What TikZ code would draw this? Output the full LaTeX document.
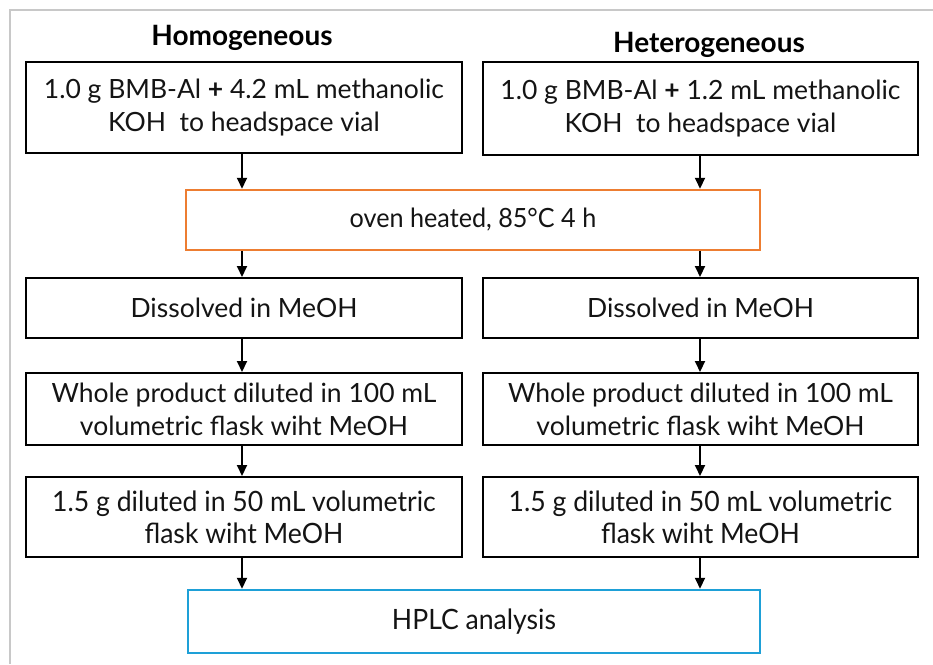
\documentclass[tikz,border=0pt]{standalone}
\usepackage{fontspec}
\setmainfont{Lato}
\newfontfamily\narrowfont[FakeStretch=0.95]{Lato}
\usetikzlibrary{arrows.meta}
\definecolor{frameg}{RGB}{200,200,200}
\definecolor{ovenorange}{RGB}{237,125,49}
\definecolor{hplcblue}{RGB}{30,160,215}
\definecolor{txt}{RGB}{20,20,20}
\begin{document}
\begin{tikzpicture}[x=1pt,y=-1pt,
  box/.style={draw=black, line width=2pt, minimum width=436pt, inner sep=0pt,
    align=center, text=txt, font=\fontsize{26.5}{33}\selectfont},
  nbox/.style={box, font=\narrowfont\fontsize{28}{32}\selectfont},
  titletext/.style={font=\bfseries\fontsize{28}{32}\selectfont, text=black},
  arr/.style={draw=black, line width=2pt, -{Triangle[length=11pt,width=10pt]}}]
\useasboundingbox (0,0) rectangle (933,664);
\draw[frameg, line width=2pt] (10,664) -- (10,10) -- (933,10);

\node[titletext] (tl) at (242,38) {Homogeneous};
\node[titletext] (tr) at (709,45) {Heterogeneous};

\node[box, minimum height=91pt] (l1) at (244,107.5) {1.0 g BMB-Al {\bfseries +} 4.2 mL methanolic\\KOH\ \ to headspace vial};
\node[box, minimum height=93pt, minimum width=435pt] (r1) at (700.5,108.5) {1.0 g BMB-Al {\bfseries +} 1.2 mL methanolic\\KOH\ \ to headspace vial};

\node[nbox, draw=ovenorange, line width=2.5pt, minimum width=574pt, minimum height=60pt,
  font=\narrowfont\fontsize{26.5}{32}\selectfont] (oven) at (473,220) {oven heated, 85°C 4 h};

\node[box, minimum height=60pt] (l2) at (244,308) {Dissolved in MeOH};
\node[box, minimum height=60pt, minimum width=435pt] (r2) at (700.5,308) {Dissolved in MeOH};

\node[box, minimum height=72pt] (l3) at (244,409) {Whole product diluted in 100 mL\\volumetric flask wiht MeOH};
\node[box, minimum height=72pt, minimum width=435pt] (r3) at (700.5,409) {Whole product diluted in 100 mL\\volumetric flask wiht MeOH};

\node[nbox, minimum height=80pt] (l4) at (244,517) {1.5 g diluted in 50 mL volumetric\\flask wiht MeOH};
\node[nbox, minimum height=80pt, minimum width=435pt] (r4) at (700.5,517) {1.5 g diluted in 50 mL volumetric\\flask wiht MeOH};

\node[nbox, draw=hplcblue, line width=2.5pt, minimum width=572pt, minimum height=63pt] (hplc) at (474,621.5) {HPLC analysis};

\coordinate (la) at (242,0);
\coordinate (ra) at (700,0);
\draw[arr] (la |- l1.south) -- (la |- oven.north);
\draw[arr] (ra |- r1.south) -- (ra |- oven.north);
\draw[arr] (la |- oven.south) -- (la |- l2.north);
\draw[arr] (ra |- oven.south) -- (ra |- r2.north);
\draw[arr] (la |- l2.south) -- (la |- l3.north);
\draw[arr] (ra |- r2.south) -- (ra |- r3.north);
\draw[arr] (la |- l3.south) -- (la |- l4.north);
\draw[arr] (ra |- r3.south) -- (ra |- r4.north);
\draw[arr] (la |- l4.south) -- (la |- hplc.north);
\draw[arr] (ra |- r4.south) -- (ra |- hplc.north);
\end{tikzpicture}
\end{document}
